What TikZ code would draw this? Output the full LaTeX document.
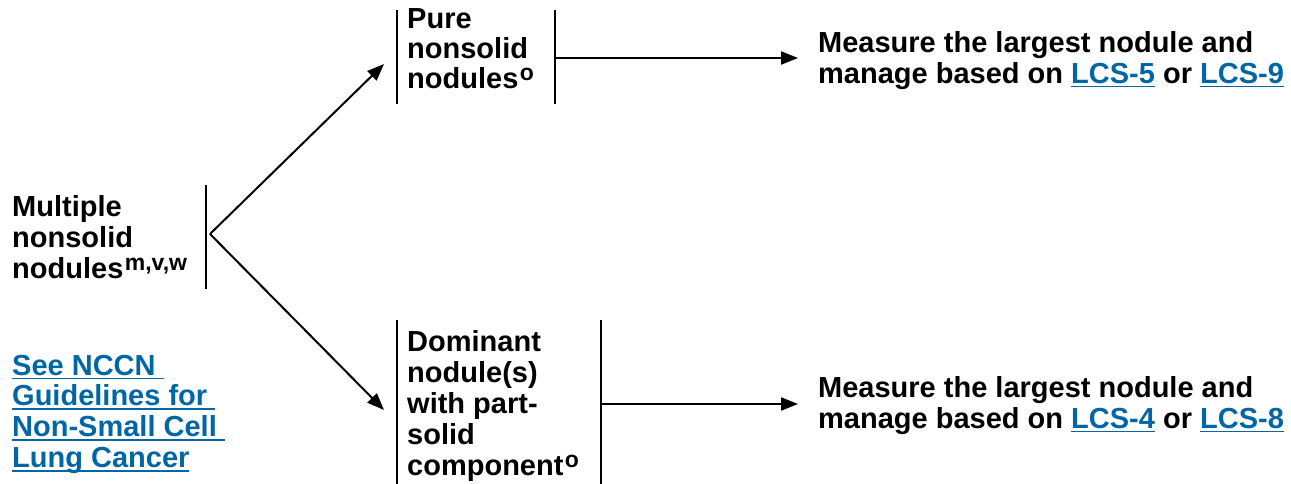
\documentclass[tikz,border=0pt]{standalone}
\usepackage{fontspec}
\setmainfont{Liberation Sans}
\usetikzlibrary{arrows.meta}
\definecolor{linkblue}{RGB}{0,102,166}
\newsavebox\lnkbox
\newcommand\lnk[1]{\begingroup\color{linkblue}\sbox\lnkbox{#1}\rlap{\usebox\lnkbox}\rule[-4.2pt]{\wd\lnkbox}{1.8pt}\endgroup}
\newcommand\sups[1]{\kern1.5pt\raisebox{8pt}{\fontsize{23}{23}\selectfont #1}}
\newcommand\fl{\rule{0pt}{22pt}}
\begin{document}
\begin{tikzpicture}[x=1pt,y=-1pt,
  lbl/.style={font=\fontsize{29}{31}\selectfont\bfseries, align=left, inner sep=0pt, anchor=north west},
  bar/.style={line width=2pt},
  arr/.style={line width=2pt, -{Triangle[length=17pt,width=13pt]}}]
\useasboundingbox (0,0) rectangle (1291,484);

% text nodes
\node[lbl] (mult) at (12,194) {\fl Multiple\\nonsolid\\nodules\sups{m,v,w}};
\node[lbl, font=\fontsize{29}{30}\selectfont\bfseries] (pure) at (407,6) {\fl Pure\\nonsolid\\nodules\sups{o}};
\node[lbl] (dom) at (407,329) {\fl Dominant\\nodule(s)\\with part-\\solid\\component\sups{o}};
\node[lbl] (meas1) at (818,30) {\fl Measure the largest nodule and\\manage based on \lnk{LCS-5} or \lnk{LCS-9}};
\node[lbl] (meas2) at (818,375) {\fl Measure the largest nodule and\\manage based on \lnk{LCS-4} or \lnk{LCS-8}};
\node[lbl, font=\fontsize{29}{30.7}\selectfont\bfseries] (see) at (12,353) {\fl\lnk{See NCCN\ }\\\lnk{Guidelines for\ }\\\lnk{Non-Small Cell\ }\\\lnk{Lung Cancer}};

% bracket bars
\draw[bar] (206,185) -- (206,289);
\draw[bar] (397,10) -- (397,104);
\draw[bar] (555,10) -- (555,104);
\draw[bar] (397,320) -- (397,484);
\draw[bar] (601,320) -- (601,484);

% connector ends
\coordinate (split) at (210,234);
\coordinate (pureIn) at (384,64);
\coordinate (domIn) at (384,410);
\coordinate (pureOut) at (555,58);
\coordinate (domOut) at (601,404);
\coordinate (meas1In) at (798,58);
\coordinate (meas2In) at (798,404);

\draw[arr] (split) -- (pureIn);
\draw[arr] (split) -- (domIn);
\draw[arr] (pureOut) -- (meas1In);
\draw[arr] (domOut) -- (meas2In);
\end{tikzpicture}
\end{document}
